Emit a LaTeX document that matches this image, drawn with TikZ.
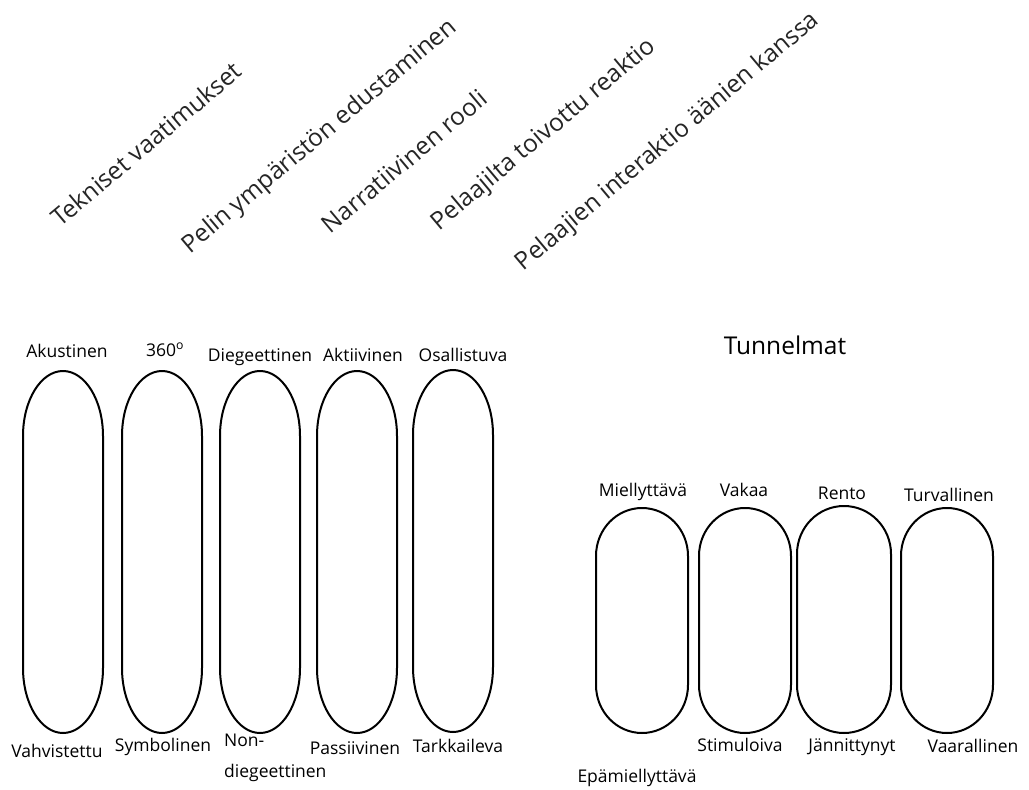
\documentclass[tikz,border=0pt]{standalone}
\usepackage{fontspec}
\setmainfont{Open Sans}
\tikzset{
  capline/.style={line width=2pt, black},
  lbl/.style={inner sep=0pt, font=\fontsize{17.5}{31}\selectfont, text height=12pt, text depth=4pt},
  title/.style={inner sep=0pt, font=\fontsize{24.5}{28}\selectfont},
  rot/.style={inner sep=0pt, font=\fontsize{24.5}{28}\selectfont, rotate=40, text=black!85},
  hold/.style={inner sep=0pt, draw=none}
}
\newcommand\capsule[6]{% name, cx, top, bottom, rx, ry
  \node[hold, minimum width=2*#5, minimum height=#4-#3] (#1) at (#2, {(#3+#4)/2}) {};
  \draw[capline] (#2-#5, #3+#6)
    .. controls (#2-#5, #3+#6-0.5523*#6) and (#2-0.5523*#5, #3) .. (#2, #3)
    .. controls (#2+0.5523*#5, #3) and (#2+#5, #3+#6-0.5523*#6) .. (#2+#5, #3+#6)
    -- (#2+#5, #4-#6)
    .. controls (#2+#5, #4-#6+0.5523*#6) and (#2+0.5523*#5, #4) .. (#2, #4)
    .. controls (#2-0.5523*#5, #4) and (#2-#5, #4-#6+0.5523*#6) .. (#2-#5, #4-#6)
    -- cycle;
}
\begin{document}
\begin{tikzpicture}[x=1pt, y=-1pt]
\useasboundingbox (0,0) rectangle (1029,790);
\fill[white] (0,0) rectangle (1029,790);

% rotated headers
\node[rot] (h1) at (146,144) {Tekniset vaatimukset};
\node[rot] (h2) at (320,137) {Pelin ympäristön edustaminen};
\node[rot] (h3) at (404,161) {Narratiivinen rooli};
\node[rot] (h4) at (544,135) {Pelaajilta toivottu reaktio};
\node[rot] (h5) at (668,142) {Pelaajien interaktio äänien kanssa};

% tall capsules
\capsule{c1}{63}{371}{733}{40}{65}
\capsule{c2}{162}{371}{733}{40}{65}
\capsule{c3}{260}{371}{733}{40}{65}
\capsule{c4}{357}{371}{733}{40}{65}
\capsule{c5}{453}{370}{732}{40}{65}

% small capsules
\capsule{d1}{642}{508}{733}{46}{48}
\capsule{d2}{745}{508}{733}{46}{48}
\capsule{d3}{844}{506}{733}{47}{48}
\capsule{d4}{947}{508}{733}{46}{48}

% top labels
\node[lbl] (t1) at (67,353) {Akustinen};
\node[lbl] (t2) at (165,352) {360\textsuperscript{o}};
\node[lbl] (t3) at (260,357) {Diegeettinen};
\node[lbl] (t4) at (363,357) {Aktiivinen};
\node[lbl] (t5) at (463,357) {Osallistuva};
\node[title] (tt) at (785,345) {Tunnelmat};
\node[lbl] (s1) at (643,492) {Miellyttävä};
\node[lbl] (s2) at (744,492) {Vakaa};
\node[lbl] (s3) at (842,495) {Rento};
\node[lbl] (s4) at (949,497) {Turvallinen};

% bottom labels
\node[lbl] (b1) at (57,753) {Vahvistettu};
\node[lbl] (b2) at (163,747) {Symbolinen};
\node[inner sep=0pt, font=\fontsize{17.5}{31}\selectfont, align=left, anchor=north west] (b3) at (224,734) {Non-\\diegeettinen};
\node[lbl] (b4) at (355,750) {Passiivinen};
\node[lbl] (b5) at (458,748) {Tarkkaileva};
\node[lbl] (e1) at (637,778) {Epämiellyttävä};
\node[lbl] (e2) at (740,747) {Stimuloiva};
\node[lbl] (e3) at (852,747) {Jännittynyt};
\node[lbl] (e4) at (973,748) {Vaarallinen};
\end{tikzpicture}
\end{document}
